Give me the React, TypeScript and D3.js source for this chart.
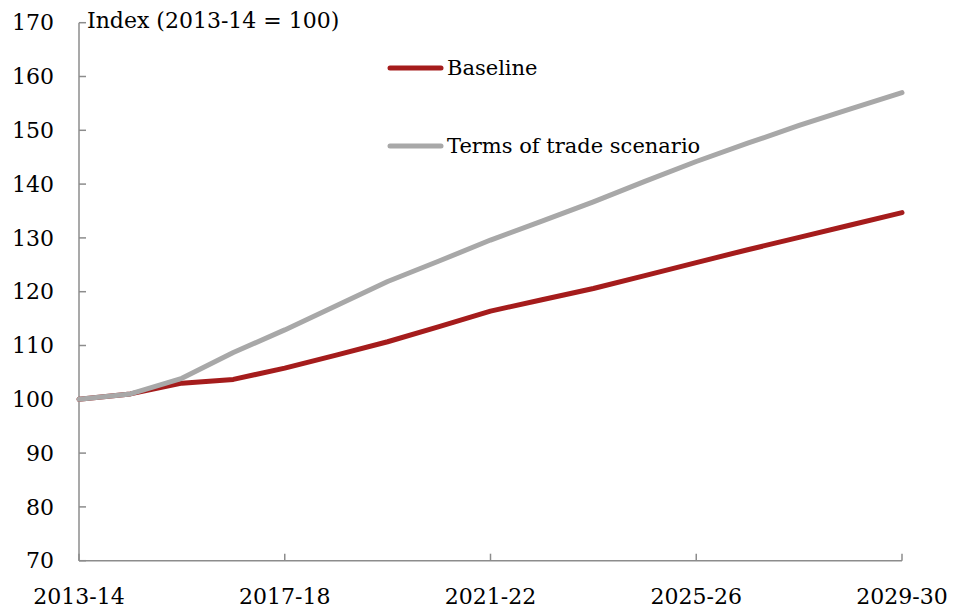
import React from "react";
import * as d3 from "d3";

const years = [
  "2013-14","2014-15","2015-16","2016-17","2017-18","2018-19","2019-20","2020-21",
  "2021-22","2022-23","2023-24","2024-25","2025-26","2026-27","2027-28","2028-29","2029-30",
];
const baseline = [100, 101, 103.0, 103.7, 105.8, 108.2, 110.7, 113.5, 116.4, 118.5, 120.6, 123.0, 125.4, 127.8, 130.1, 132.4, 134.7];
const termsOfTrade = [100, 101, 103.9, 108.7, 112.9, 117.4, 121.9, 125.7, 129.6, 133.1, 136.7, 140.5, 144.2, 147.6, 150.9, 154.0, 157.0];
const xTickLabels = ["2013-14", "2017-18", "2021-22", "2025-26", "2029-30"];
const yTicks = [70, 80, 90, 100, 110, 120, 130, 140, 150, 160, 170];
const seriesNames = ["Baseline", "Terms of trade scenario"];
const title = "Index (2013-14 = 100)";

const W = 965, H = 612;
const FONT = "'DejaVu Serif', serif";

export default function App() {
  const x = d3.scalePoint<string>().domain(years).range([79, 902]);
  const y = d3.scaleLinear().domain([70, 170]).range([560.7, 22.7]);
  const line = d3.line<number>().x((_, i) => x(years[i])!).y((d) => y(d));
  const axisColor = "#8c8c8c";
  const series = [
    { name: seriesNames[0], values: baseline, color: "#a51c1c" },
    { name: seriesNames[1], values: termsOfTrade, color: "#a8a8a8" },
  ];
  const legendY = [68, 146];
  return (
    <svg width={W} height={H} style={{ position: "absolute", left: 0, top: 0, background: "#fff" }} fontFamily={FONT}>
      <line x1={x(years[0])} x2={x(years[0])} y1={y(170)} y2={y(70)} stroke={axisColor} strokeWidth={1.5} />
      <line x1={x(years[0])} x2={x(years[16])} y1={y(70)} y2={y(70)} stroke={axisColor} strokeWidth={1.5} />
      {yTicks.map((t) => (
        <g key={t}>
          <line x1={79} x2={86} y1={y(t)} y2={y(t)} stroke={axisColor} strokeWidth={1.5} />
          <text x={54} y={y(t)} dy="0.35em" textAnchor="end" fontSize={22} fill="#000">{t}</text>
        </g>
      ))}
      {xTickLabels.map((lab) => (
        <g key={lab}>
          <line x1={x(lab)} x2={x(lab)} y1={y(70)} y2={y(70) - 7} stroke={axisColor} strokeWidth={1.5} />
          <text x={x(lab)} y={604} textAnchor="middle" fontSize={22} fill="#000">{lab}</text>
        </g>
      ))}
      <text x={87} y={28} fontSize={22} fill="#000">{title}</text>
      {series.map((s) => (
        <path key={s.name} d={line(s.values)!} fill="none" stroke={s.color} strokeWidth={5} strokeLinejoin="round" strokeLinecap="round" />
      ))}
      {series.map((s, i) => (
        <g key={s.name}>
          <line x1={390} x2={441} y1={legendY[i]} y2={legendY[i]} stroke={s.color} strokeWidth={5} strokeLinecap="round" />
          <text x={447} y={legendY[i]} dy="0.32em" fontSize={21} fill="#000">{s.name}</text>
        </g>
      ))}
    </svg>
  );
}
